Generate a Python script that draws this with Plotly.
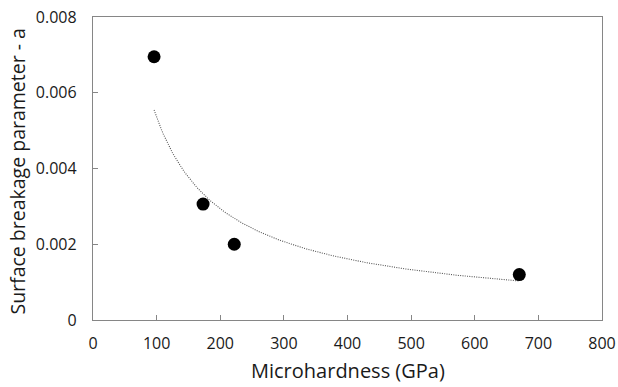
import numpy as np
import plotly.graph_objects as go

# Data
microhardness = [96, 173, 222, 670]
breakage_a = [0.00695, 0.00306, 0.00200, 0.00120]

x_ticks = [0, 100, 200, 300, 400, 500, 600, 700, 800]
y_ticks = [0, 0.002, 0.004, 0.006, 0.008]
y_tick_labels = ["0", "0.002", "0.004", "0.006", "0.008"]

x_title = "Microhardness (GPa)"
y_title = "Surface breakage parameter - a"

# Power trendline fitted from the data (log-log least squares)
lx = np.log(microhardness)
ly = np.log(breakage_a)
b, ln_a = np.polyfit(lx, ly, 1)
xt = np.linspace(min(microhardness), max(microhardness), 200)
yt = np.exp(ln_a) * xt ** b

fig = go.Figure()
fig.add_trace(go.Scatter(x=xt, y=yt, mode="lines",
                         line=dict(color="#555555", width=1.1, dash="1px,1.3px"),
                         showlegend=False, hoverinfo="skip"))
fig.add_trace(go.Scatter(x=microhardness, y=breakage_a, mode="markers",
                         marker=dict(color="black", size=13),
                         showlegend=False))

font_family = "Open Sans, Liberation Sans, sans-serif"
axis_common = dict(showline=True, linecolor="#868686", linewidth=1.3,
                   mirror=True, ticks="inside", ticklen=5, tickcolor="#868686",
                   showgrid=False, zeroline=False, automargin=False,
                   tickfont=dict(family=font_family, size=16, color="#1a1a1a"))

W, H = 618, 387
ml, mr, mt, mb = 93, 16, 17, 67

fig.update_layout(
    width=W, height=H,
    margin=dict(l=ml, r=mr, t=mt, b=mb),
    paper_bgcolor="white", plot_bgcolor="white",
    xaxis=dict(range=[0, 800], tickvals=x_ticks, ticklabelstandoff=9,
               **axis_common),
    yaxis=dict(range=[0, 0.008], tickvals=y_ticks, ticktext=y_tick_labels,
               ticklabelstandoff=12, **axis_common),
)

fig.add_annotation(text=x_title, xref="paper", yref="paper",
                   x=0.5, y=-(370 - (H - mb)) / (H - mt - mb),
                   xanchor="center", yanchor="middle", showarrow=False,
                   font=dict(family=font_family, size=20, color="#1a1a1a"))
fig.add_annotation(text=y_title, xref="paper", yref="paper",
                   x=-(ml - 18) / (W - ml - mr), y=0.49,
                   xanchor="center", yanchor="middle", showarrow=False,
                   textangle=-90,
                   font=dict(family=font_family, size=19.5, color="#1a1a1a"))

fig.write_html("out.html", config={"displayModeBar": False},
               post_script="document.body.style.margin='0';document.body.style.overflow='hidden';")
